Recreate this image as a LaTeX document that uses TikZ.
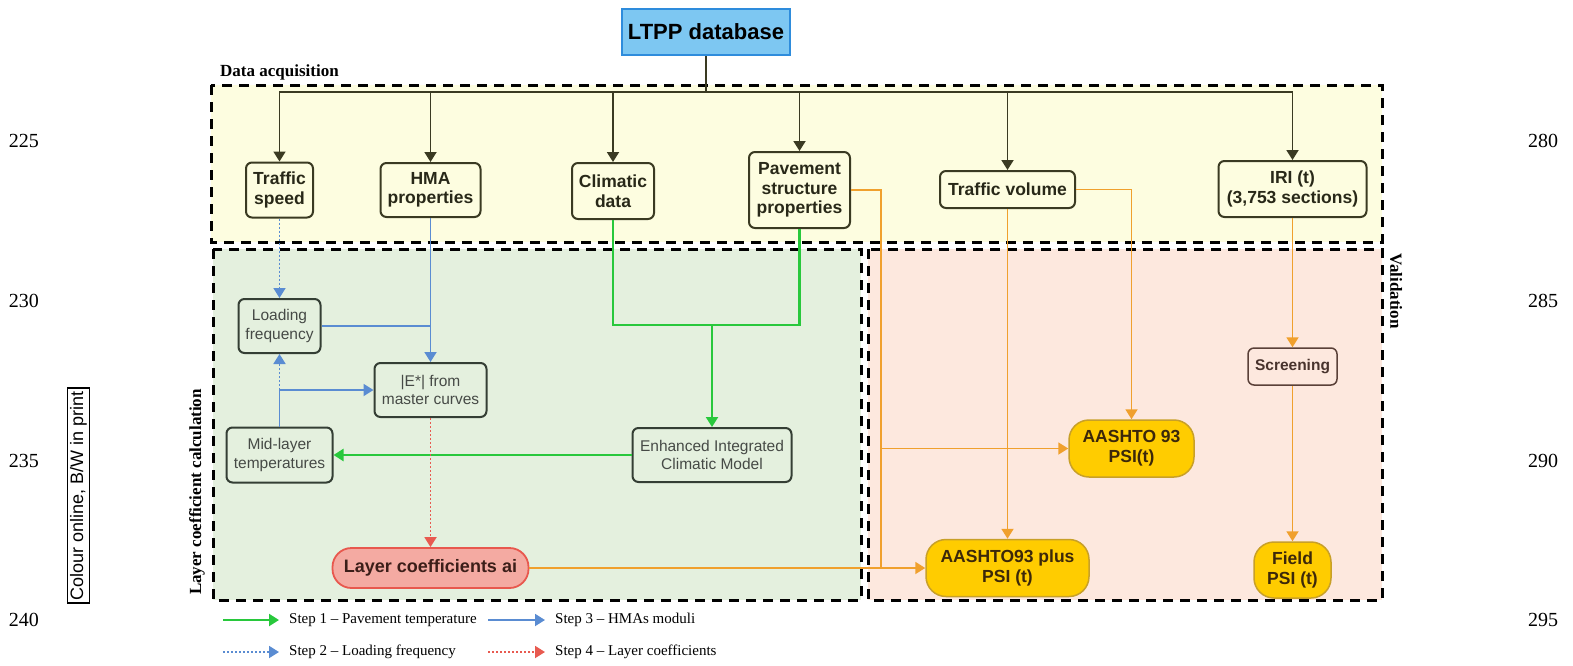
\documentclass[tikz,border=0pt]{standalone}
\usepackage{fontspec}
\setmainfont{Liberation Serif}
\setsansfont{Liberation Sans}
\usetikzlibrary{arrows.meta}
\definecolor{acqfill}{RGB}{253,253,224}
\definecolor{calcfill}{RGB}{228,240,222}
\definecolor{valfill}{RGB}{253,232,222}
\definecolor{ltppfill}{RGB}{125,199,242}
\definecolor{ltppedge}{RGB}{46,140,220}
\definecolor{olivedark}{RGB}{58,58,34}
\definecolor{olivetext}{RGB}{40,40,24}
\definecolor{calcdark}{RGB}{52,62,52}
\definecolor{calctext}{RGB}{70,74,70}
\definecolor{psifill}{RGB}{255,204,0}
\definecolor{psiedge}{RGB}{200,160,40}
\definecolor{psitext}{RGB}{60,40,10}
\definecolor{layerfill}{RGB}{244,170,162}
\definecolor{layeredge}{RGB}{232,88,78}
\definecolor{layertext}{RGB}{60,30,25}
\definecolor{stepgreen}{RGB}{40,200,60}
\definecolor{stepblue}{RGB}{90,140,210}
\definecolor{stepred}{RGB}{232,90,80}
\definecolor{orangeline}{RGB}{240,160,45}
\definecolor{screenedge}{RGB}{90,64,56}
\begin{document}
\begin{tikzpicture}[x=1pt,y=-1pt,
    region/.style={line width=3pt,dash pattern=on 10pt off 7pt},
    topbox/.style={draw=olivedark,fill=acqfill,line width=2pt,rounded corners=6pt,inner sep=0pt,align=center,
      text=olivetext,font=\sffamily\bfseries\fontsize{17.5}{19.5}\selectfont},
    calcbox/.style={draw=calcdark,line width=2pt,rounded corners=6pt,inner sep=0pt,align=center,
      text=calctext,font=\sffamily\fontsize{15.5}{18.3}\selectfont},
    psibox/.style={draw=psiedge,fill=psifill,line width=1.5pt,rounded corners=20pt,inner sep=0pt,align=center,
      text=psitext,font=\sffamily\bfseries\fontsize{17.5}{20}\selectfont},
    tip/.style={-{Triangle[length=10pt,width=12pt]}},
    blk/.style={draw=olivedark,line width=1.8pt},
    grn/.style={draw=stepgreen,line width=2.2pt},
    blu/.style={draw=stepblue,line width=1.8pt},
    bludot/.style={blu,dash pattern=on 2pt off 2pt},
    reddot/.style={draw=stepred,line width=1.8pt,dash pattern=on 2pt off 2pt},
    org/.style={draw=orangeline,line width=1.8pt},
    legend/.style={anchor=west,inner sep=0pt,font=\fontsize{15}{17}\selectfont},
    lineno/.style={font=\fontsize{20}{22}\selectfont}]
    \useasboundingbox (0,0) rectangle (1573,665);

    \draw[region,fill=acqfill] (211,85) rectangle (1382,242);
    \draw[region,fill=calcfill] (213,249) rectangle (861,600);
    \draw[region,fill=valfill] (868,249) rectangle (1382,600);

    \node[draw=ltppedge,fill=ltppfill,line width=2pt,minimum width=168pt,minimum height=46pt,
      font=\sffamily\bfseries\fontsize{22}{24}\selectfont] (ltpp) at (706,32) {LTPP database};
    \node[anchor=base west,inner sep=0pt,font=\bfseries\fontsize{17}{19}\selectfont] (acqlbl) at (220,76) {Data acquisition};
    \node[rotate=90,inner sep=0pt,font=\bfseries\fontsize{17}{19}\selectfont] (calclbl) at (197,492) {Layer coefficient calculation};
    \node[rotate=-90,inner sep=0pt,font=\bfseries\fontsize{17}{19}\selectfont] (vallbl) at (1396,291) {Validation};

    \node[topbox,minimum width=67pt,minimum height=55pt] (tspeed) at (279.5,190) {Traffic\\speed};
    \node[topbox,minimum width=100pt,minimum height=54pt] (hma) at (430.5,190) {HMA\\properties};
    \node[topbox,minimum width=82pt,minimum height=56pt] (clim) at (613,191) {Climatic\\data};
    \node[topbox,minimum width=101pt,minimum height=76pt] (pave) at (799.5,190) {Pavement\\structure\\properties};
    \node[topbox,minimum width=135pt,minimum height=37pt] (tvol) at (1007.5,189.5) {Traffic volume};
    \node[topbox,minimum width=148pt,minimum height=56pt] (iri) at (1292.5,189) {IRI (t)\\(3,753 sections)};

    \node[calcbox,minimum width=82pt,minimum height=54pt] (loadf) at (279.5,326) {Loading\\frequency};
    \node[calcbox,minimum width=112pt,minimum height=54pt] (estar) at (430.5,390) {|E*| from\\master curves};
    \node[calcbox,minimum width=106pt,minimum height=55pt] (midl) at (279.5,455) {Mid-layer\\temperatures};
    \node[calcbox,minimum width=159pt,minimum height=54pt] (eicm) at (712,455) {Enhanced Integrated\\Climatic Model};
    \node[draw=layeredge,fill=layerfill,line width=1.8pt,rounded corners=19pt,minimum width=196pt,minimum height=40pt,
      text=layertext,font=\sffamily\bfseries\fontsize{18}{20}\selectfont] (layer) at (430.5,568) {Layer coefficients ai};

    \node[psibox,minimum width=125pt,minimum height=57pt] (a93) at (1131.5,448.5) {AASHTO 93\\PSI(t)};
    \node[psibox,minimum width=163pt,minimum height=57pt] (aplus) at (1007.5,568) {AASHTO93 plus\\PSI (t)};
    \node[draw=screenedge,line width=1.5pt,rounded corners=6pt,minimum width=89pt,minimum height=37pt,inner sep=0pt,
      text=screenedge!80!black,font=\sffamily\bfseries\fontsize{15.5}{18}\selectfont] (screen) at (1292.5,366.5) {Screening};
    \node[psibox,minimum width=77pt,minimum height=56pt] (field) at (1292.5,570) {Field\\PSI (t)};

    \coordinate (bus) at (706,92);
    \draw[blk] (ltpp.south) -- (bus);
    \foreach \n in {tspeed,hma,clim,pave,tvol,iri}
      \draw[blk,tip] (bus) -| (\n.north);

    \coordinate (gj) at (712,325);
    \draw[grn] (clim.south) |- (gj);
    \draw[grn] (pave.south) |- (gj);
    \draw[grn,tip] (gj) -- (eicm.north);
    \draw[grn,tip] (eicm.west) -- (midl.east);

    \draw[bludot,tip] (tspeed.south) -- (loadf.north);
    \draw[blu,tip] (hma.south) -- (estar.north);
    \draw[blu] (loadf.east) -- (loadf.east -| hma.south);
    \coordinate (bj) at (279.5,390);
    \draw[blu] (midl.north) -- (bj);
    \draw[blu,tip] (bj) -- (estar.west);
    \draw[bludot,tip] (bj) -- (loadf.south);
    \draw[reddot,tip] (estar.south) -- (layer.north);

    \coordinate (oj) at (881,568);
    \draw[org] (pave.east) -| (oj);
    \draw[org,tip] (oj |- a93.west) -- (a93.west);
    \draw[org,tip] (layer.east) -- (aplus.west);
    \draw[org,tip] (tvol.south) -- (aplus.north);
    \draw[org,tip] (tvol.east) -| (a93.north);
    \draw[org,tip] (iri.south) -- (screen.north);
    \draw[org,tip] (screen.south) -- (field.north);

    \node[legend] (s1) at (289,620) {Step 1 -- Pavement temperature};
    \node[legend] (s3) at (555,620) {Step 3 -- HMAs moduli};
    \node[legend] (s2) at (289,652) {Step 2 -- Loading frequency};
    \node[legend] (s4) at (555,652) {Step 4 -- Layer coefficients};
    \draw[grn,tip] ([xshift=-66pt]s1.west) -- ([xshift=-10pt]s1.west);
    \draw[blu,tip] ([xshift=-67pt]s3.west) -- ([xshift=-10pt]s3.west);
    \draw[bludot,tip] ([xshift=-66pt]s2.west) -- ([xshift=-10pt]s2.west);
    \draw[reddot,tip] ([xshift=-67pt]s4.west) -- ([xshift=-10pt]s4.west);

    \node[lineno] (n225) at (24,141) {225};
    \node[lineno] (n230) at (24,301) {230};
    \node[lineno] (n235) at (24,461) {235};
    \node[lineno] (n240) at (24,620) {240};
    \node[lineno] (n280) at (1543,141) {280};
    \node[lineno] (n285) at (1543,301) {285};
    \node[lineno] (n290) at (1543,461) {290};
    \node[lineno] (n295) at (1543,620) {295};
    \node[draw,rotate=90,line width=1.2pt,inner sep=3pt,font=\sffamily\fontsize{18}{20}\selectfont] (colnote) at (78.5,495.5) {Colour online, B/W in print};
\end{tikzpicture}
\end{document}
